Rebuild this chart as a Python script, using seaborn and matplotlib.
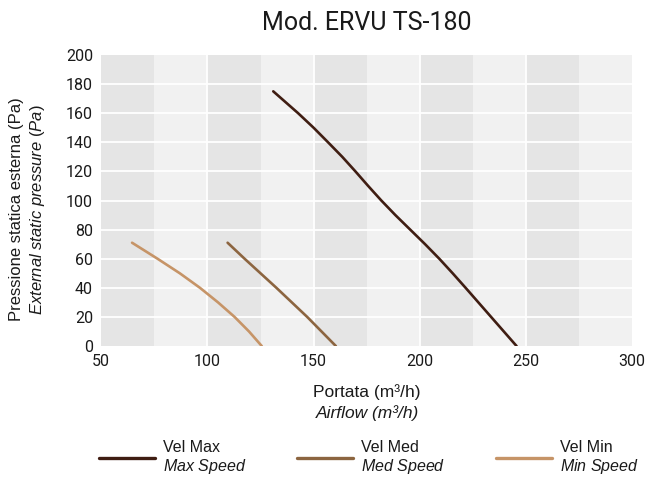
import numpy as np
import pandas as pd
import matplotlib
matplotlib.use("Agg")
import matplotlib.pyplot as plt
import seaborn as sns

# Curve data (airflow m3/h, pressure Pa)
max_airflow = [131, 142.7, 150, 156.8, 163.5, 169.7, 175.7, 181.9, 188.5,
               195.5, 202.5, 209.2, 215.5, 221.6, 227.6, 233.6, 239.6, 245.6]
max_pressure = [175, 160, 150, 140, 130, 120, 110, 100, 90,
                80, 70, 60, 50, 40, 30, 20, 10, 0]
med_airflow = [109.5, 117.5, 132.5, 147, 160.5]
med_pressure = [71, 60, 40, 20, 0]
min_airflow = [64.5, 76.5, 87, 96.5, 105, 112.8, 119.6, 125.6]
min_pressure = [71, 60, 50, 40, 30, 20, 10, 0]

series_names = ["Vel Max\n$\\it{Max\\ Speed}$",
                "Vel Med\n$\\it{Med\\ Speed}$",
                "Vel Min\n$\\it{Min\\ Speed}$"]
series_colors = ["#3f1d12", "#8c6540", "#c69467"]

x_ticks = [50, 100, 150, 200, 250, 300]
y_ticks = [0, 20, 40, 60, 80, 100, 120, 140, 160, 180, 200]

df = pd.concat([
    pd.DataFrame({"airflow": max_airflow, "pressure": max_pressure, "speed": series_names[0]}),
    pd.DataFrame({"airflow": med_airflow, "pressure": med_pressure, "speed": series_names[1]}),
    pd.DataFrame({"airflow": min_airflow, "pressure": min_pressure, "speed": series_names[2]}),
])

sns.set_style("white")
plt.rcParams["font.family"] = ["Liberation Sans", "DejaVu Sans"]
plt.rcParams["mathtext.fontset"] = "custom"
plt.rcParams["mathtext.rm"] = "Liberation Sans"
plt.rcParams["mathtext.it"] = "Liberation Sans:italic"

TEXT = "#1a1a1a"

fig = plt.figure(figsize=(6.45, 4.82), dpi=100)
ax = fig.add_axes([0.157, 0.282, 0.823, 0.604])

# alternating vertical bands every 25 m3/h
edges = np.arange(50, 300, 25)
for i, left in enumerate(edges):
    ax.axvspan(left, left + 25, color="#e5e5e5" if i % 2 == 0 else "#f1f1f1",
               lw=0, zorder=0)

for t in x_ticks[1:-1]:
    ax.axvline(t, color="white", lw=1.3, zorder=1)
for t in y_ticks[1:-1]:
    ax.axhline(t, color="white", lw=1.3, zorder=1)

sns.lineplot(data=df, x="airflow", y="pressure", hue="speed",
             palette=series_colors, hue_order=series_names,
             lw=1.9, sort=False, estimator=None, ax=ax, zorder=3)

ax.set_xlim(50, 300)
ax.set_ylim(0, 200)
ax.set_xticks(x_ticks)
ax.set_yticks(y_ticks)
ax.tick_params(length=0, labelsize=11.5, colors=TEXT, pad=6)
for lab in ax.get_xticklabels() + ax.get_yticklabels():
    lab.set_family(["Roboto", "DejaVu Sans"])
for s in ax.spines.values():
    s.set_visible(False)
ax.set_xlabel("")
ax.set_ylabel("")

fig.text(0.568, 0.952, "Mod. ERVU TS-180", ha="center", va="center",
         fontsize=18, color=TEXT, family=["Roboto", "DejaVu Sans"])
fig.text(28 / 645, 0.566,
         "Pressione statica esterna (Pa)\n$\\it{External\\ static\\ pressure\\ (Pa)}$",
         rotation=90, ha="center", va="center", fontsize=12,
         color=TEXT, linespacing=1.25)
fig.text(367 / 645, 1 - 392 / 482, "Portata (m\u00b3/h)",
         ha="center", va="center", fontsize=12.5, color=TEXT)
fig.text(367 / 645, 1 - 413 / 482, "Airflow (m\u00b3/h)",
         ha="center", va="center", fontsize=12.5, color=TEXT, style="italic")

handles, labels = ax.get_legend_handles_labels()
ax.get_legend().remove()
leg = fig.legend(handles, labels, loc="center", bbox_to_anchor=(0.572, 0.050),
                 ncol=3, frameon=False, handlelength=3.5, handletextpad=0.5,
                 columnspacing=3.2, fontsize=11.5)
for line in leg.get_lines():
    line.set_linewidth(2.4)
for txt in leg.get_texts():
    txt.set_color(TEXT)

fig.savefig("out.png", dpi=100)
